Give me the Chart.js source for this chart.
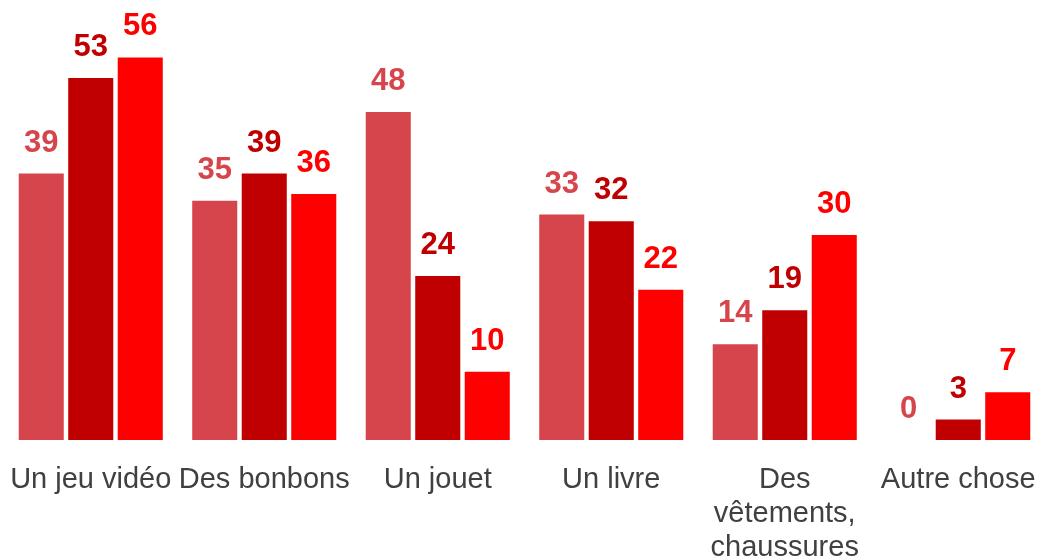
<!DOCTYPE html>
<html>
<head>
<meta charset="utf-8">
<script src="https://cdn.jsdelivr.net/npm/chart.js@4"></script>
<style>
  html, body { margin: 0; padding: 0; background: #fff; overflow: hidden; }
  #wrap { width: 1045px; height: 557px; }
</style>
</head>
<body>
<div id="wrap"><canvas id="chart"></canvas></div>
<script>
const categories = [
  "Un jeu vidéo",
  "Des bonbons",
  "Un jouet",
  "Un livre",
  ["Des", "vêtements,", "chaussures"],
  "Autre chose"
];
const serie1 = [39, 35, 48, 33, 14, 0];
const serie2 = [53, 39, 24, 32, 19, 3];
const serie3 = [56, 36, 10, 22, 30, 7];
const colors = ["#d6454c", "#c00000", "#ff0000"];

// draws the value above each bar, same colour as the bar
const valueLabels = {
  id: "valueLabels",
  afterDatasetsDraw(chart) {
    const ctx = chart.ctx;
    ctx.save();
    ctx.font = "bold 31px 'Liberation Sans', Arial, sans-serif";
    ctx.textAlign = "center";
    ctx.textBaseline = "alphabetic";
    chart.data.datasets.forEach((ds, i) => {
      const meta = chart.getDatasetMeta(i);
      meta.data.forEach((bar, j) => {
        ctx.fillStyle = ds.backgroundColor;
        ctx.fillText(ds.data[j], bar.x, bar.y - 22);
      });
    });
    ctx.restore();
  }
};

new Chart(document.getElementById("chart").getContext("2d"), {
  type: "bar",
  data: {
    labels: categories,
    datasets: [
      { data: serie1, backgroundColor: colors[0] },
      { data: serie2, backgroundColor: colors[1] },
      { data: serie3, backgroundColor: colors[2] }
    ]
  },
  options: {
    responsive: true,
    maintainAspectRatio: false,
    animation: false,
    layout: { padding: { left: 4, right: 0, top: 0, bottom: 0 } },
    datasets: {
      bar: { categoryPercentage: 0.856, barPercentage: 0.91 }
    },
    plugins: {
      legend: { display: false },
      tooltip: { enabled: false }
    },
    scales: {
      x: {
        grid: { display: false, drawTicks: false },
        border: { display: false },
        ticks: {
          color: "#404040",
          padding: 23,
          maxRotation: 0,
          autoSkip: false,
          font: { family: "'Liberation Sans', Arial, sans-serif", size: 29, lineHeight: 1.17 }
        },
        afterFit(scale) {
          scale.height = 117;
          scale.paddingLeft = 0;
          scale.paddingRight = 0;
        }
      },
      y: {
        display: false,
        min: 0,
        max: 64.4
      }
    }
  },
  plugins: [valueLabels]
});
</script>
</body>
</html>
